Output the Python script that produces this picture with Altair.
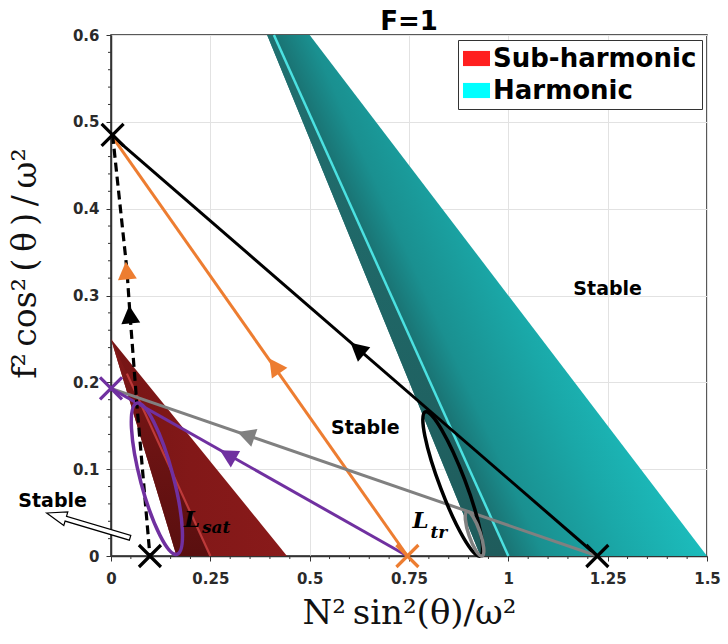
import math
import altair as alt
import pandas as pd

# ---------------- values ----------------
X_MAJOR = [0, 0.25, 0.5, 0.75, 1, 1.25, 1.5]
X_MINOR = [0.05, 0.1, 0.15, 0.2, 0.3, 0.35, 0.4, 0.45, 0.55, 0.6, 0.65, 0.7,
           0.8, 0.85, 0.9, 0.95, 1.05, 1.1, 1.15, 1.2, 1.3, 1.35, 1.4, 1.45]
Y_MAJOR = [0, 0.1, 0.2, 0.3, 0.4, 0.5, 0.6]
Y_MINOR = [0.02, 0.04, 0.06, 0.08, 0.12, 0.14, 0.16, 0.18, 0.22, 0.24, 0.26, 0.28,
           0.32, 0.34, 0.36, 0.38, 0.42, 0.44, 0.46, 0.48, 0.52, 0.54, 0.56, 0.58]

X_TITLE = "N²\u2009sin²(θ)/ω²"
Y_TITLE = "f²\u2009cos²\u2009(\u2009θ\u2009)\u2009/\u2009ω²"

LEGEND_KINDS = ["Sub-harmonic", "Harmonic"]
LEGEND_COLORS = ["#ff1f1f", "#00ffff"]

# Sub-harmonic tongue (at each y: left edge, inner ridge, right edge)
SUB_Y = [0.0, 0.25]
SUB_LEFT = [0.165, 0.0]
SUB_RIDGE = [0.25, 0.0]
SUB_RIGHT = [0.443, 0.0]
SUB_RIDGE_LINE_X = [0.25, 0.04]
SUB_RIDGE_LINE_Y = [0.0, 0.21]

# Harmonic tongue
HAR_Y = [0.0, 0.6]
HAR_LEFT = [0.93, 0.393]
HAR_RIDGE = [1.0, 0.41]
HAR_RIGHT = [1.5, 0.50]

# straight trajectories
LINE_NAMES = ["black", "orange", "gray", "purple"]
LINE_X = [[0.0, 1.224], [0.0, 0.746], [0.0, 1.224], [0.0, 0.746]]
LINE_Y = [[0.485, 0.0], [0.485, 0.0], [0.193, 0.0], [0.193, 0.0]]

# dashed trajectory
DASH_X = [0.004, 0.040, 0.048, 0.065, 0.098]
DASH_Y = [0.485, 0.330, 0.277, 0.175, 0.0]

# arrow heads: position, colour, direction (from -> to)
ARROW_X = [0.622, 0.413, 0.342, 0.296, 0.0395, 0.048]
ARROW_Y = [0.238, 0.218, 0.139, 0.116, 0.3275, 0.277]
ARROW_COL = ["black", "orange", "gray", "purple", "orange", "black"]
ARROW_FROM = [(1.224, 0.0), (0.746, 0.0), (1.224, 0.0), (0.746, 0.0), (0.065, 0.175), (0.065, 0.175)]
ARROW_TO = [(0.0, 0.485), (0.0, 0.485), (0.0, 0.193), (0.0, 0.193), (0.004, 0.485), (0.004, 0.485)]

# cross markers
CROSS_X = [0.004, 0.098, 1.224, 0.0, 0.746]
CROSS_Y = [0.485, 0.0, 0.0, 0.193, 0.0]
CROSS_COL = ["black", "black", "black", "purple", "orange"]

# loops (ellipses): top end, bottom end of the long axis, width ratio
ELL_TOP = [(0.065, 0.176), (0.791, 0.166), (0.896, 0.051)]
ELL_BOT = [(0.166, 0.002), (0.929, 0.0), (0.934, 0.0)]
ELL_RATIO = [0.21, 0.165, 0.245]
ELL_COL = ["purple", "black", "gray"]

# labels
STABLE_X = [1.25, 0.64, -0.147]
STABLE_Y = [0.308, 0.147, 0.063]
L_X = [0.184, 0.759]
L_Y = [0.033, 0.032]
SUB_TXT = ["sat", "tr"]
SUB_X = [0.229, 0.804]
SUB_Y_TXT = [0.026, 0.021]

# hollow arrow to the outside "Stable" label
HOLLOW_TAIL = (0.048, 0.021)
HOLLOW_TIP = (-0.162, 0.0495)

COLORS = {"black": "#000000", "orange": "#ed7d31", "gray": "#808080", "purple": "#7030a0"}

# ---------------- layout helpers ----------------
W, H = 596, 521
XMAX, YMAX = 1.5, 0.6
SX, SY = W / XMAX, H / YMAX

SCALE_X = alt.Scale(domain=[0, XMAX], nice=False, zero=False)
SCALE_Y = alt.Scale(domain=[0, YMAX], nice=False, zero=False)

LABEL_EXPR = "format(datum.value, '.3~g')"

AXIS_X = alt.Axis(values=X_MAJOR, labelExpr=LABEL_EXPR, title=X_TITLE, grid=True,
                  gridColor="#e2e2e2", tickSize=5, tickColor="#333", domainColor="#333",
                  domainWidth=1.5, labelFont="DejaVu Sans", labelFontWeight="bold",
                  labelFontSize=15, labelColor="#2a2a2a", labelPadding=10, labelFlush=False,
                  titleFont="DejaVu Serif", titleFontSize=34, titleFontWeight="normal",
                  titleColor="#111", titleX=W / 2, titleY=57, titleAlign="center",
                  titleBaseline="middle")
AXIS_Y = alt.Axis(values=Y_MAJOR, labelExpr=LABEL_EXPR, title=Y_TITLE, grid=True,
                  gridColor="#e2e2e2", tickSize=5, tickColor="#333", domainColor="#333",
                  domainWidth=1.5, labelFont="DejaVu Sans", labelFontWeight="bold",
                  labelFontSize=15, labelColor="#2a2a2a", labelPadding=7, labelFlush=False,
                  titleFont="DejaVu Serif", titleFontSize=33, titleFontWeight="normal",
                  titleColor="#111", titleX=-86, titleY=228, titleAlign="center",
                  titleBaseline="middle", titleAngle=270)


def X(field, **kw):
    return alt.X(field, type="quantitative", scale=SCALE_X, axis=AXIS_X, **kw)


def Y(field, **kw):
    return alt.Y(field, type="quantitative", scale=SCALE_Y, axis=AXIS_Y, **kw)


def to_px(x, y):
    return x * SX, H - y * SY


def angle_of(dx, dy):
    return math.degrees(math.atan2(dx * SX, dy * SY)) % 360


# ---------------- regions ----------------
legend_df = pd.DataFrame({
    "y": SUB_Y + HAR_Y,
    "xl": SUB_LEFT + HAR_LEFT,
    "xr": SUB_RIGHT + HAR_RIGHT,
    "kind": ["Sub-harmonic"] * 2 + ["Harmonic"] * 2,
})
legend_layer = alt.Chart(legend_df).mark_area(orient="horizontal", opacity=0).encode(
    y=Y("y"), x=X("xl"), x2="xr",
    color=alt.Color("kind:N", scale=alt.Scale(domain=LEGEND_KINDS, range=LEGEND_COLORS),
                    legend=alt.Legend(title=None, orient="top-right", offset=5, padding=5,
                                      strokeColor="#333", fillColor="white",
                                      labelFont="DejaVu Sans", labelFontWeight="bold",
                                      labelFontSize=26, labelColor="black", labelLimit=400,
                                      symbolType="M -1 -0.56 L 1 -0.56 L 1 0.56 L -1 0.56 Z",
                                      symbolSize=729, symbolOpacity=1, symbolStrokeWidth=0,
                                      rowPadding=5, labelOffset=3, cornerRadius=0)),
)


def band(ys, left, right, grad):
    df = pd.DataFrame({"y": ys, "xl": left, "xr": right})
    return alt.Chart(df).mark_area(orient="horizontal", color=grad, opacity=1).encode(
        y=Y("y"), x=X("xl"), x2="xr")


def lin(stops, x1, y1, x2, y2):
    return {"gradient": "linear", "x1": x1, "y1": y1, "x2": x2, "y2": y2,
            "stops": [{"offset": o, "color": c} for o, c in stops]}


sub_full = band(SUB_Y, SUB_LEFT, SUB_RIGHT,
                lin([(0, "#761515"), (0.45, "#821818"), (1, "#891a1a")], 0, 0, 1, 0))
sub_left = band(SUB_Y, SUB_LEFT, SUB_RIDGE,
                lin([(0, "#851919"), (0.4, "#701414"), (1, "#5a0f0f")], 0, 0, 0, 1))
sub_ridge = alt.Chart(pd.DataFrame({"x": SUB_RIDGE_LINE_X, "y": SUB_RIDGE_LINE_Y, "i": [0, 1]})) \
    .mark_line(color="#d04444", strokeWidth=2.2, opacity=0.8).encode(x=X("x"), y=Y("y"), order="i:Q")

# harmonic gradient: iso-lines parallel to the ridge
bx0 = min(HAR_LEFT) * SX
bx1 = max(HAR_RIGHT) * SX
bw, bh = bx1 - bx0, H
r_top = to_px(HAR_RIDGE[1], HAR_Y[1])
r_bot = to_px(HAR_RIDGE[0], HAR_Y[0])
dnx, dny = (r_bot[0] - r_top[0]) / bw, (r_bot[1] - r_top[1]) / bh
nx, ny = dny, -dnx
nn = math.hypot(nx, ny)
nx, ny = nx / nn, ny / nn
sx0, sy0 = (r_top[0] - bx0) / bw, r_top[1] / bh
br = to_px(HAR_RIGHT[0], HAR_Y[0])
brx, bry = (br[0] - bx0) / bw, br[1] / bh
t = (brx - sx0) * nx + (bry - sy0) * ny
har_full = band(HAR_Y, HAR_LEFT, HAR_RIGHT,
                lin([(0, "#1a7373"), (0.18, "#1a9090"), (0.59, "#1aa8a8"), (1, "#1cbcbc")],
                    sx0, sy0, sx0 + t * nx, sy0 + t * ny))
har_left = band(HAR_Y, HAR_LEFT, HAR_RIDGE,
                lin([(0, "#207070"), (1, "#1f5c5c")], 0, 0, 0, 1))
har_ridge = alt.Chart(pd.DataFrame({"x": HAR_RIDGE, "y": HAR_Y, "i": [0, 1]})) \
    .mark_line(color="#4ee8e8", strokeWidth=2.5, opacity=0.95).encode(x=X("x"), y=Y("y"), order="i:Q")

# ---------------- minor ticks ----------------
xminor = alt.Chart(pd.DataFrame({"v": X_MINOR})).mark_rule(color="#333", strokeWidth=1).encode(
    x=X("v"), y=alt.value(H), y2=alt.value(H + 3))
yminor = alt.Chart(pd.DataFrame({"v": Y_MINOR})).mark_rule(color="#333", strokeWidth=1).encode(
    y=Y("v"), x=alt.value(0), x2=alt.value(-3))

# ---------------- trajectories ----------------
rows = []
for name, xs, ys in zip(LINE_NAMES, LINE_X, LINE_Y):
    for i, (xv, yv) in enumerate(zip(xs, ys)):
        rows.append({"name": name, "x": xv, "y": yv, "i": i, "col": COLORS[name]})
lines = alt.Chart(pd.DataFrame(rows)).mark_line(strokeWidth=3).encode(
    x=X("x"), y=Y("y"), detail="name:N", order="i:Q", color=alt.Color("col:N", scale=None))

dashed = alt.Chart(pd.DataFrame({"x": DASH_X, "y": DASH_Y, "i": range(len(DASH_X))})) \
    .mark_line(color="black", strokeWidth=3.2, strokeDash=[9, 5]).encode(
    x=X("x"), y=Y("y"), order="i:Q")

# ---------------- loops ----------------
erows = []
for (xt, yt), (xb, yb), r, c in zip(ELL_TOP, ELL_BOT, ELL_RATIO, ELL_COL):
    length = math.hypot((xt - xb) * SX, (yt - yb) * SY)
    erows.append({"x": (xt + xb) / 2, "y": (yt + yb) / 2,
                  "shape": f"M 0 -1 A {r} 1 0 1 1 0 1 A {r} 1 0 1 1 0 -1 Z",
                  "size": length ** 2, "ang": angle_of(xt - xb, yt - yb), "col": COLORS[c]})
loops = alt.Chart(pd.DataFrame(erows)).mark_point(filled=False, strokeWidth=3.5, opacity=1).encode(
    x=X("x"), y=Y("y"), shape=alt.Shape("shape:N", scale=None),
    size=alt.Size("size:Q", scale=None), angle=alt.Angle("ang:Q", scale=None),
    color=alt.Color("col:N", scale=None))

# ---------------- arrow heads ----------------
arows = []
for xv, yv, c, f, tt in zip(ARROW_X, ARROW_Y, ARROW_COL, ARROW_FROM, ARROW_TO):
    arows.append({"x": xv, "y": yv, "col": COLORS[c], "ang": angle_of(tt[0] - f[0], tt[1] - f[1])})
heads = alt.Chart(pd.DataFrame(arows)).mark_point(
    shape="M 0 -0.95 L 0.9 0.75 L -0.9 0.75 Z", filled=True, size=441, opacity=1).encode(
    x=X("x"), y=Y("y"), angle=alt.Angle("ang:Q", scale=None), color=alt.Color("col:N", scale=None))

# ---------------- crosses ----------------
crosses = alt.Chart(pd.DataFrame({"x": CROSS_X, "y": CROSS_Y, "col": [COLORS[c] for c in CROSS_COL]})) \
    .mark_point(shape="M -1 -1 L 1 1 M -1 1 L 1 -1", filled=False, size=484, strokeWidth=3.2, opacity=1) \
    .encode(x=X("x"), y=Y("y"), color=alt.Color("col:N", scale=None))

# ---------------- texts ----------------
stable = alt.Chart(pd.DataFrame({"x": STABLE_X, "y": STABLE_Y, "t": ["Stable"] * 3})).mark_text(
    font="DejaVu Sans", fontWeight="bold", fontSize=19, color="black", align="center",
    baseline="middle").encode(x=X("x"), y=Y("y"), text="t:N")
lmain = alt.Chart(pd.DataFrame({"x": L_X, "y": L_Y, "t": ["L", "L"]})).mark_text(
    font="DejaVu Serif", fontStyle="italic", fontWeight="bold", fontSize=23, color="black",
    align="left", baseline="alphabetic").encode(x=X("x"), y=Y("y"), text="t:N")
lsub = alt.Chart(pd.DataFrame({"x": SUB_X, "y": SUB_Y_TXT, "t": SUB_TXT})).mark_text(
    font="DejaVu Serif", fontStyle="italic", fontWeight="bold", fontSize=17, color="black",
    align="left", baseline="alphabetic").encode(x=X("x"), y=Y("y"), text="t:N")

# hollow arrow
tpx = to_px(*HOLLOW_TAIL)
hpx = to_px(*HOLLOW_TIP)
alen = math.hypot(hpx[0] - tpx[0], hpx[1] - tpx[1])
u = alen / 2
hl, hw, sw = 20 / u, 7 / u, 2.5 / u
hpath = (f"M 0 -1 L {hw:.4f} {-1 + hl:.4f} L {sw:.4f} {-1 + hl:.4f} L {sw:.4f} 1 "
         f"L {-sw:.4f} 1 L {-sw:.4f} {-1 + hl:.4f} L {-hw:.4f} {-1 + hl:.4f} Z")
hollow = alt.Chart(pd.DataFrame({
    "x": [(HOLLOW_TAIL[0] + HOLLOW_TIP[0]) / 2], "y": [(HOLLOW_TAIL[1] + HOLLOW_TIP[1]) / 2],
    "ang": [angle_of(HOLLOW_TIP[0] - HOLLOW_TAIL[0], HOLLOW_TIP[1] - HOLLOW_TAIL[1])]})) \
    .mark_point(shape=hpath, filled=True, fill="white", stroke="black", strokeWidth=1.2,
                size=alen ** 2, opacity=1) \
    .encode(x=X("x"), y=Y("y"), angle=alt.Angle("ang:Q", scale=None))

chart = alt.layer(
    legend_layer, sub_full, sub_left, sub_ridge, har_full, har_left, har_ridge,
    xminor, yminor, lines, dashed, loops, heads, crosses, stable, lmain, lsub, hollow,
).properties(
    width=W, height=H, autosize="none",
    padding={"left": 111, "top": 35, "right": 21, "bottom": 88},
    title=alt.TitleParams("F=1", font="DejaVu Sans", fontSize=26, fontWeight="bold",
                          anchor="middle", offset=5, dy=12, color="black"),
).configure_view(stroke="#222", strokeWidth=1.5)

chart.save("out.html", embed_options={"renderer": "svg", "actions": False})
